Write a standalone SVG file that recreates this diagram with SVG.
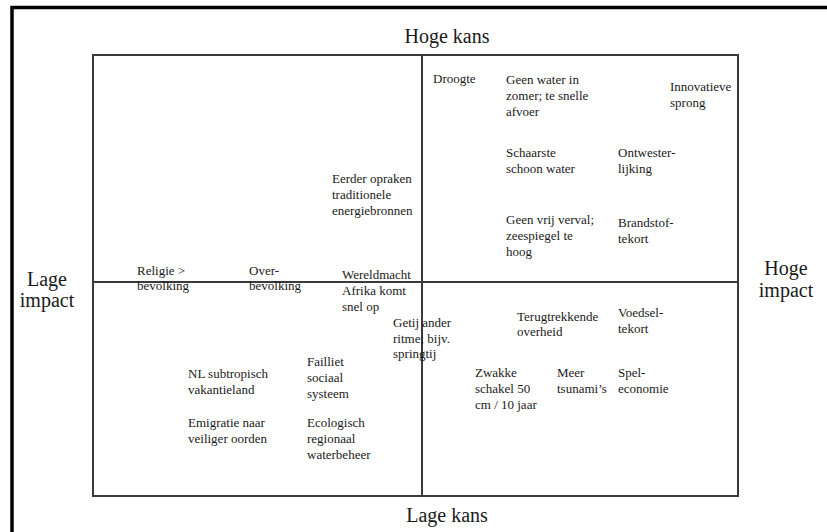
<svg xmlns="http://www.w3.org/2000/svg" width="827" height="532" viewBox="0 0 827 532">
<style>
text{font-family:"Liberation Serif","Times New Roman",serif;fill:#1a1a1a}
.t{font-size:13px}
.h{font-size:20px}
.c{text-anchor:middle}
.frame{fill:none;stroke:#000;stroke-width:3.5}
.ln{fill:none;stroke:#3a3a3a;stroke-width:2}
</style>
<rect width="827" height="532" fill="#fff"/>
<path class="frame" d="M12,532 V7.5 H827"/>
<g id="axes">
<rect class="ln" x="93" y="55" width="645" height="441"/>
<line class="ln" x1="422" y1="55" x2="422" y2="496"/>
<line class="ln" x1="93" y1="282" x2="738" y2="282"/>
</g>
<g id="labels">
<text class="h c" x="447" y="43">Hoge kans</text>
<text class="h c" x="447" y="522">Lage kans</text>
<text class="h c" x="47" y="286">Lage</text>
<text class="h c" x="47" y="307">impact</text>
<text class="h c" x="786" y="275">Hoge</text>
<text class="h c" x="786" y="297">impact</text>
</g>
<g id="n-droogte"><text class="t" x="433" y="83">Droogte</text></g>
<g id="n-geenwater"><text class="t" x="506" y="84">Geen water in</text><text class="t" x="506" y="100">zomer; te snelle</text><text class="t" x="506" y="116">afvoer</text></g>
<g id="n-innovatieve"><text class="t" x="670" y="91">Innovatieve</text><text class="t" x="670" y="107">sprong</text></g>
<g id="n-schaarste"><text class="t" x="506" y="157">Schaarste</text><text class="t" x="506" y="173">schoon water</text></g>
<g id="n-ontwester"><text class="t" x="618" y="157">Ontwester-</text><text class="t" x="618" y="173">lijking</text></g>
<g id="n-geenvrij"><text class="t" x="506" y="224">Geen vrij verval;</text><text class="t" x="506" y="240">zeespiegel te</text><text class="t" x="506" y="256">hoog</text></g>
<g id="n-brandstof"><text class="t" x="618" y="227">Brandstof-</text><text class="t" x="618" y="243">tekort</text></g>
<g id="n-eerder"><text class="t" x="332" y="183">Eerder opraken</text><text class="t" x="332" y="199">traditionele</text><text class="t" x="332" y="215">energiebronnen</text></g>
<g id="n-religie"><text class="t" x="137" y="275">Religie &gt;</text><text class="t" x="137" y="290">bevolking</text></g>
<g id="n-over"><text class="t" x="249" y="275">Over-</text><text class="t" x="249" y="290">bevolking</text></g>
<g id="n-wereldmacht"><text class="t" x="342" y="279">Wereldmacht</text><text class="t" x="342" y="295">Afrika komt</text><text class="t" x="342" y="311">snel op</text></g>
<g id="n-getij"><text class="t" x="393" y="327">Getij ander</text><text class="t" x="393" y="343">ritme; bijv.</text><text class="t" x="393" y="358">springtij</text></g>
<g id="n-terug"><text class="t" x="517" y="321">Terugtrekkende</text><text class="t" x="517" y="336">overheid</text></g>
<g id="n-voedsel"><text class="t" x="618" y="317">Voedsel-</text><text class="t" x="618" y="333">tekort</text></g>
<g id="n-zwakke"><text class="t" x="475" y="377">Zwakke</text><text class="t" x="475" y="393">schakel 50</text><text class="t" x="475" y="409">cm / 10 jaar</text></g>
<g id="n-meer"><text class="t" x="557" y="377">Meer</text><text class="t" x="557" y="393">tsunami’s</text></g>
<g id="n-spel"><text class="t" x="618" y="377">Spel-</text><text class="t" x="618" y="393">economie</text></g>
<g id="n-nl"><text class="t" x="188" y="378">NL subtropisch</text><text class="t" x="188" y="394">vakantieland</text></g>
<g id="n-failliet"><text class="t" x="307" y="366">Failliet</text><text class="t" x="307" y="382">sociaal</text><text class="t" x="307" y="398">systeem</text></g>
<g id="n-emigratie"><text class="t" x="188" y="427">Emigratie naar</text><text class="t" x="188" y="443">veiliger oorden</text></g>
<g id="n-ecologisch"><text class="t" x="307" y="427">Ecologisch</text><text class="t" x="307" y="443">regionaal</text><text class="t" x="307" y="459">waterbeheer</text></g>
<g id="connectors"></g>
</svg>
